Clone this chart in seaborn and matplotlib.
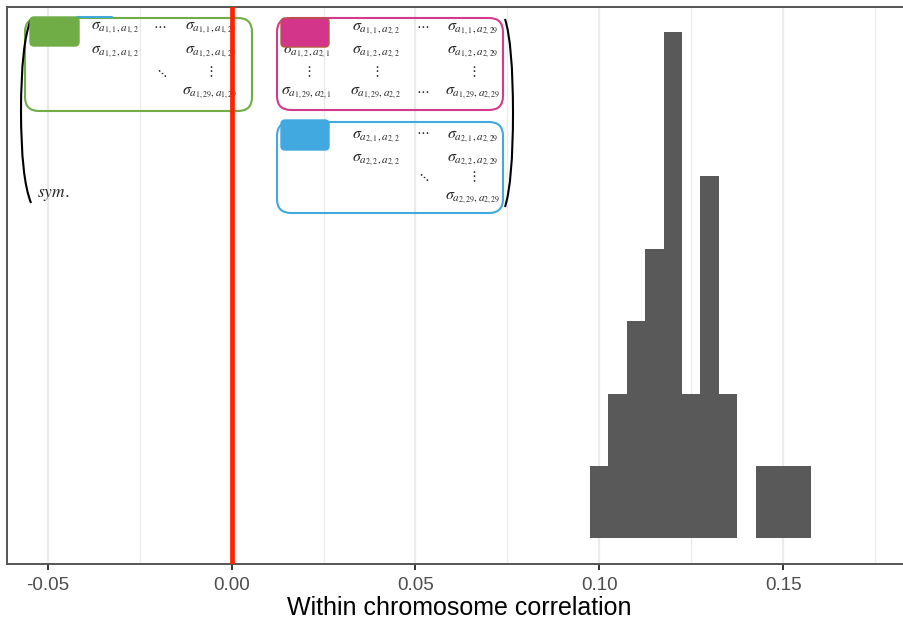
import numpy as np
import pandas as pd
import seaborn as sns
import matplotlib
matplotlib.use("Agg")
import matplotlib.pyplot as plt
from matplotlib.transforms import IdentityTransform
from matplotlib.patches import FancyBboxPatch, PathPatch
from matplotlib.path import Path
from matplotlib.lines import Line2D

# ---------------- data ----------------
bin_width = 0.005
bin_start = 0.0975
counts = [1, 2, 3, 4, 7, 2, 5, 2, 0, 1, 1, 1]
bin_centers = [round(bin_start + bin_width * (i + 0.5), 5) for i in range(len(counts))]
xticks = [-0.05, 0.00, 0.05, 0.10, 0.15]
xtick_labels = ["-0.05", "0.00", "0.05", "0.10", "0.15"]
minor_ticks = [-0.025, 0.025, 0.075, 0.125, 0.175]
xlabel = "Within chromosome correlation"
ref_value = 0.0

# ---------------- figure ----------------
sns.set_theme(style="white")
plt.rcParams['font.family'] = ['Liberation Sans', 'DejaVu Sans']

W, H = 904, 622
fig = plt.figure(figsize=(W / 100, H / 100), dpi=100)
ax = fig.add_axes([7 / W, 1 - 563.5 / H, (912 - 7) / W, (563.5 - 6.5) / H])

df = pd.DataFrame({"r": bin_centers, "n": counts})
edges = [round(bin_start + bin_width * i, 5) for i in range(len(counts) + 1)]
sns.histplot(data=df, x="r", weights="n", bins=edges, color="#595959", alpha=1,
             edgecolor="none", linewidth=0, ax=ax, zorder=3)

ax.axvline(ref_value, color="#FF2200", lw=3.4, zorder=8)

px_per_unit = 3676.0
x0_px = 231.7
ax.set_xlim((7 - x0_px) / px_per_unit, (912 - x0_px) / px_per_unit)
ax.set_ylim(-0.35, 7.35)

ax.set_xticks(xticks)
ax.set_xticklabels(xtick_labels)
ax.set_xticks(minor_ticks, minor=True)
ax.set_yticks([])
ax.set_ylabel("")
ax.set_xlabel(xlabel, fontsize=18, color="black", labelpad=1.5)
ax.tick_params(axis="x", which="major", length=4, width=1.4, color="#333333",
               labelsize=13.5, labelcolor="#4D4D4D", pad=6, bottom=True)
ax.tick_params(axis="x", which="minor", length=0)
ax.set_axisbelow(True)
ax.grid(axis="x", which="major", color="#EBEBEB", lw=1.6)
ax.grid(axis="x", which="minor", color="#EBEBEB", lw=1.0)
ax.grid(axis="y", visible=False)
for s in ax.spines.values():
    s.set_color("#555555")
    s.set_linewidth(1.4)
ax.spines["right"].set_visible(False)

# ---------------- inset: covariance matrix sketch ----------------
T = IdentityTransform()


def P(x, y):
    return x, H - y


def box(x1, y1, x2, y2, ec, fc="none", r=14, lw=1.5, z=4):
    p = FancyBboxPatch(P(x1, y2), x2 - x1, y2 - y1,
                       boxstyle=f"round,pad=0,rounding_size={r}",
                       transform=T, ec=ec, fc=fc, lw=lw, zorder=z, clip_on=False)
    ax.add_patch(p)


def txt(x, y, s, size=11.5, z=5, **kw):
    ax.text(*P(x, y), s, transform=T, ha="center", va="center", fontsize=size,
            math_fontfamily="stix", zorder=z, clip_on=False, **kw)


def dots(x, y, s):
    txt(x, y, s, size=10)


def sig(a, b, c, d):
    return r"$\sigma_{a_{%d,%d},a_{%d,%d}}$" % (a, b, c, d)


def paren(xe, xm, y1, y2):
    ym = (y1 + y2) / 2
    verts = [P(xe, y1), P(xm, y1 + 25), P(xm, ym), P(xm, y2 - 25), P(xe, y2)]
    codes = [Path.MOVETO, Path.CURVE3, Path.LINETO, Path.CURVE3, Path.LINETO]
    ax.add_patch(PathPatch(Path(verts, codes), transform=T, fc="none", ec="black",
                           lw=1.5, zorder=5, clip_on=False))


# brackets
paren(31, 21, 19, 203)
paren(505, 513, 19, 207)

# hidden entries (under the coloured squares)
txt(56, 29, sig(1, 1, 1, 1))
txt(307, 29, sig(1, 1, 2, 1))
txt(307, 137, sig(2, 1, 2, 1))

# green block: chromosome 1 with itself
txt(115, 28, sig(1, 1, 1, 2)); dots(160, 25, r"$\cdots$"); txt(211, 28, sig(1, 1, 1, 29))
txt(115, 52, sig(1, 2, 1, 2)); txt(211, 52, sig(1, 2, 1, 29))
dots(161, 73, r"$\ddots$"); dots(210, 72, r"$\vdots$")
txt(210, 93, sig(1, 29, 1, 29))
txt(53, 195, r"$sym$.", size=12.5)

# magenta block: chromosome 1 with chromosome 2
txt(376, 29, sig(1, 1, 2, 2)); dots(423, 25, r"$\cdots$"); txt(473, 29, sig(1, 1, 2, 29))
txt(307, 52, sig(1, 2, 2, 1)); txt(376, 52, sig(1, 2, 2, 2)); txt(473, 52, sig(1, 2, 2, 29))
dots(308, 72, r"$\vdots$"); dots(376, 72, r"$\vdots$"); dots(473, 72, r"$\vdots$")
txt(307, 93, sig(1, 29, 2, 1)); txt(376, 93, sig(1, 29, 2, 2)); dots(423, 90, r"$\cdots$")
txt(473, 93, sig(1, 29, 2, 29))

# blue block: chromosome 2 with itself
txt(376, 137, sig(2, 1, 2, 2)); dots(423, 131, r"$\cdots$"); txt(473, 137, sig(2, 1, 2, 29))
txt(376, 160, sig(2, 2, 2, 2)); txt(473, 160, sig(2, 2, 2, 29))
dots(423, 177, r"$\ddots$"); dots(473, 177, r"$\vdots$")
txt(473, 198, sig(2, 29, 2, 29))

# rounded frames
box(25, 18, 252, 111, "#70AD47")
box(277, 18, 503, 110, "#D4398A")
box(277, 122, 503, 213, "#41A8E0")
ax.add_line(Line2D([77, 112], [H - 17, H - 17], transform=T, color="#41A8E0", lw=1.5,
                   zorder=6, clip_on=False))
# coloured squares
box(30, 17, 79, 46, "#70AD47", fc="#70AD47", r=4, lw=1, z=7)
box(281, 18, 329, 47, "#B55A3F", fc="#D2358A", r=4, lw=1, z=7)
box(281, 120, 329, 150, "#41A8E0", fc="#41A8E0", r=4, lw=1, z=7)

fig.savefig("out.png", dpi=100)
